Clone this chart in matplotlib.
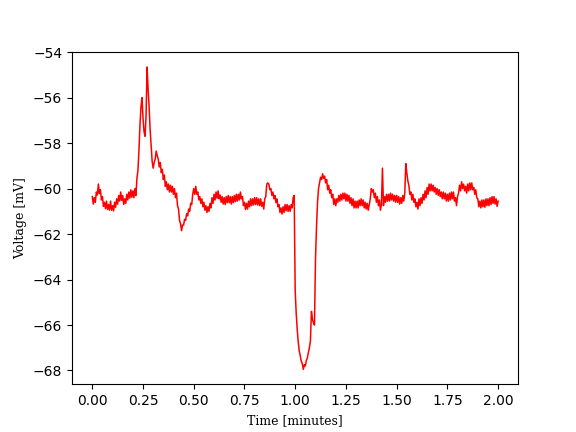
import numpy as np
import matplotlib
matplotlib.use("Agg")
import matplotlib.pyplot as plt

# membrane voltage, one sample every 0.005 minutes
voltage = [
    # 0.0 - 0.1
    -60.35, -60.68, -60.40, -60.60, -60.15, -60.28, -59.80, -60.22, -60.05, -60.50,
    -60.35, -60.78, -60.60, -60.88, -60.55, -60.92, -60.70, -60.95, -60.55, -60.95,
    # 0.1 - 0.2
    -60.75, -60.98, -60.60, -60.82, -60.45, -60.68, -60.30, -60.55, -60.15, -60.52,
    -60.30, -60.70, -60.45, -60.65, -60.25, -60.50, -60.15, -60.42, -60.05, -60.38,
    # 0.2 - 0.3
    -60.10, -60.40, -60.00, -60.30, -59.55, -59.20, -58.30, -57.20, -56.40, -56.00,
    -56.90, -57.50, -57.70, -56.80, -54.65, -55.60, -56.40, -57.40, -58.10, -58.80,
    # 0.3 - 0.4
    -59.10, -58.85, -58.70, -58.35, -58.55, -58.70, -59.05, -58.85, -59.30, -59.15,
    -59.60, -59.40, -59.90, -59.70, -60.05, -59.80, -60.15, -59.85, -60.15, -59.90,
    # 0.4 - 0.5
    -60.25, -60.00, -60.40, -60.20, -60.75, -60.90, -61.40, -61.55, -61.85, -61.60,
    -61.60, -61.35, -61.40, -61.10, -61.20, -60.90, -61.00, -60.65, -60.70, -60.25,
    # 0.5 - 0.6
    -60.00, -60.25, -59.90, -60.25, -60.15, -60.50, -60.35, -60.65, -60.45, -60.80,
    -60.60, -60.95, -60.75, -61.05, -60.80, -61.00, -60.65, -60.85, -60.40, -60.65,
    # 0.6 - 0.7
    -60.25, -60.50, -60.15, -60.42, -60.10, -60.45, -60.28, -60.60, -60.35, -60.68,
    -60.40, -60.70, -60.35, -60.62, -60.30, -60.62, -60.35, -60.68, -60.35, -60.62,
    # 0.7 - 0.8
    -60.30, -60.58, -60.25, -60.55, -60.25, -60.50, -60.15, -60.45, -60.35, -60.75,
    -60.60, -60.92, -60.65, -60.90, -60.55, -60.80, -60.45, -60.75, -60.45, -60.72,
    # 0.8 - 0.9
    -60.40, -60.70, -60.40, -60.72, -60.45, -60.75, -60.45, -60.78, -60.60, -60.90,
    -60.45, -60.35, -59.80, -59.75, -59.80, -60.05, -60.00, -60.30, -60.15, -60.45,
    # 0.9 - 1.0
    -60.30, -60.62, -60.45, -60.80, -60.70, -61.05, -60.85, -61.12, -60.80, -61.05,
    -60.70, -60.98, -60.70, -61.00, -60.75, -61.00, -60.70, -60.85, -60.40, -60.30,
    # 1.0 - 1.1
    -64.50, -65.50, -66.20, -66.75, -67.15, -67.35, -67.60, -67.70, -67.95, -67.75,
    -67.80, -67.55, -67.45, -67.20, -67.00, -66.70, -65.40, -65.75, -65.90, -66.00,
    # 1.1 - 1.2
    -63.10, -61.70, -60.60, -60.00, -59.75, -59.50, -59.60, -59.35, -59.55, -59.45,
    -59.75, -59.60, -60.05, -59.85, -60.20, -60.05, -60.40, -60.25, -60.70, -60.45,
    # 1.2 - 1.3
    -60.75, -60.45, -60.60, -60.30, -60.55, -60.25, -60.50, -60.20, -60.45, -60.20,
    -60.55, -60.25, -60.55, -60.30, -60.65, -60.40, -60.75, -60.45, -60.85, -60.55,
    # 1.3 - 1.4
    -60.85, -60.55, -60.85, -60.50, -60.75, -60.45, -60.75, -60.50, -60.85, -60.60,
    -60.90, -60.65, -60.95, -60.70, -60.45, -60.00, -60.15, -60.05, -60.40, -60.20,
    # 1.4 - 1.5
    -60.60, -60.35, -60.75, -60.50, -60.95, -60.70, -59.10, -60.75, -60.35, -60.60,
    -60.25, -60.55, -60.25, -60.55, -60.20, -60.50, -60.25, -60.55, -60.30, -60.60,
    # 1.5 - 1.6
    -60.30, -60.60, -60.35, -60.68, -60.40, -60.65, -60.30, -60.55, -60.20, -58.90,
    -59.30, -59.65, -59.85, -60.25, -60.15, -60.50, -60.25, -60.60, -60.45, -60.80,
    # 1.6 - 1.7
    -60.60, -60.90, -60.45, -60.75, -60.40, -60.65, -60.25, -60.50, -60.10, -60.40,
    -59.95, -60.25, -59.80, -60.10, -59.80, -60.10, -59.85, -60.15, -59.95, -60.25,
    # 1.7 - 1.8
    -60.00, -60.30, -60.05, -60.35, -60.15, -60.45, -60.15, -60.45, -60.20, -60.55,
    -60.25, -60.55, -60.20, -60.50, -60.15, -60.45, -60.15, -60.55, -60.40, -60.75,
    # 1.8 - 1.9
    -60.35, -60.20, -59.85, -60.10, -59.70, -60.00, -59.80, -60.10, -59.90, -60.20,
    -59.80, -60.10, -59.75, -60.05, -59.75, -60.05, -59.95, -60.25, -60.05, -60.40,
    # 1.9 - 2.0
    -60.45, -60.80, -60.55, -60.85, -60.50, -60.80, -60.50, -60.82, -60.45, -60.75,
    -60.45, -60.75, -60.40, -60.70, -60.35, -60.65, -60.35, -60.68, -60.45, -60.78,
    -60.55,
]
dt = 0.005  # minutes per sample
time = np.arange(len(voltage)) * dt

fig, ax = plt.subplots(figsize=(5.76, 4.32), dpi=100)
ax.plot(time, voltage, color='red', linewidth=1.1)
ax.set_xlabel('Time [minutes]', family='DejaVu Serif', fontsize=9)
ax.set_ylabel('Voltage [mV]', family='DejaVu Serif', fontsize=9)
ax.set_yticks(np.arange(-68, -53, 2))

fig.savefig('out.png')
